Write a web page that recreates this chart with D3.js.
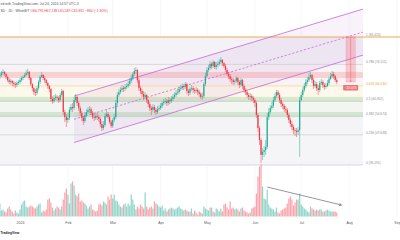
<!DOCTYPE html>
<html><head><meta charset="utf-8">
<script src="https://cdn.jsdelivr.net/npm/d3@7"></script>
<style>html,body{margin:0;padding:0;background:#fff;}svg{display:block;font-family:"Liberation Sans",Arial,sans-serif;}</style>
</head><body><svg id="c" width="400" height="240"></svg>
<script>
// ---- data (prices in thousands USD) ----
const firstDay = "2023-12-19";
const firstOpen = 69.7;
const closes = [70.1,70.9,71.3,70.5,69.4,68.2,67.5,67.9,67.1,66.7,66.4,67.1,67.5,
68.2,69.0,69.4,70.1,70.9,71.3,69.0,66.7,65.2,63.7,
63.4,65.2,67.5,69.4,70.1,69.0,68.2,67.1,66.0,64.9,
61.1,60.3,61.5,61.9,61.5,60.7,62.6,64.1,56.2,54.3,
53.2,54.0,57.0,58.1,57.7,60.7,61.9,59.6,57.7,55.8,
54.0,52.8,55.1,56.2,57.0,57.3,55.8,54.3,54.0,54.7,
54.3,53.6,51.7,50.2,51.3,54.7,55.5,54.3,52.5,51.0,
53.2,54.3,59.6,62.6,63.7,64.5,65.2,64.9,65.6,66.0,
66.7,67.9,69.0,70.5,71.6,72.0,68.2,65.2,64.1,63.0,
61.9,62.6,60.7,59.2,57.7,57.0,58.1,57.0,56.2,57.3,
57.7,58.5,59.6,60.0,60.3,59.6,60.7,60.3,61.1,61.9,
62.6,63.4,63.7,64.9,65.2,66.0,65.6,66.7,64.1,63.4,
64.9,65.2,64.5,64.1,64.5,63.7,63.0,61.9,62.2,66.7,
69.7,72.0,72.8,74.3,73.5,75.0,73.1,73.9,74.3,75.0,
75.8,74.6,73.5,72.0,70.5,69.7,68.6,68.2,67.5,67.9,
69.0,67.5,66.4,68.2,66.0,64.5,63.7,62.6,61.9,62.2,
61.5,60.7,59.6,55.1,50.2,45.7,40.1,41.2,41.9,43.1,
54.3,56.2,57.7,58.5,60.7,62.2,63.7,62.6,60.7,59.2,
58.5,57.3,57.0,55.1,53.2,51.7,50.6,49.4,49.1,48.7,
49.4,60.7,62.6,64.5,66.0,67.5,68.2,69.4,70.1,68.2,
66.0,66.7,65.2,64.5,67.1,67.5,66.4,65.6,66.0,67.1,
68.6,69.7,70.5,69.7,68.2,67.5];
const highs = [71.3,71.6,72.4,71.6,70.9,69.7,69.0,68.6,68.2,67.9,67.5,67.9,68.2,
69.0,69.7,70.1,70.9,72.0,72.4,71.6,69.4,67.1,65.6,
64.9,66.0,68.2,70.1,71.3,70.5,69.7,68.6,67.5,66.4,
65.2,62.2,62.6,63.0,62.6,62.2,63.4,64.9,64.5,57.0,
55.5,55.8,58.1,59.2,59.6,61.9,63.0,62.2,60.3,58.5,
56.6,54.7,56.2,57.3,58.1,58.5,58.1,56.6,55.5,55.8,
55.8,55.1,54.3,52.8,52.8,55.8,57.0,56.2,55.1,53.2,
54.0,55.5,60.7,63.7,64.9,65.6,66.4,66.0,66.7,67.1,
67.9,69.0,70.1,71.3,72.8,73.1,72.4,69.0,66.0,64.9,
64.1,63.7,63.0,61.1,60.0,58.5,59.2,58.8,57.7,58.5,
58.8,59.6,60.3,61.1,61.5,61.1,61.9,61.5,62.2,63.0,
63.7,64.5,64.9,66.0,66.4,67.1,66.7,67.5,67.1,64.9,
65.6,66.4,66.0,65.2,65.6,65.2,64.5,63.7,63.4,67.5,
70.9,73.1,73.9,75.4,75.0,75.8,75.4,75.0,75.4,76.1,
76.9,76.1,75.0,74.3,72.8,71.3,70.5,69.4,69.0,68.6,
69.7,69.4,68.2,69.0,68.6,66.7,65.2,64.5,63.4,63.4,
63.0,62.2,61.5,60.3,55.8,51.0,46.4,42.7,43.4,45.7,
55.8,57.7,58.8,60.0,61.9,63.4,64.5,64.5,63.4,61.5,
60.0,59.2,58.5,57.7,55.8,54.0,52.8,51.3,50.2,50.2,
50.6,61.9,63.7,65.6,67.1,68.6,69.4,70.9,71.3,70.5,
69.0,67.9,67.5,66.4,67.9,68.6,68.2,67.1,67.1,68.2,
69.4,70.9,71.6,71.3,70.1,69.0];
const lows = [68.6,69.4,70.1,69.7,68.6,67.5,66.7,66.4,66.0,65.6,65.2,65.6,66.4,
66.7,67.5,68.2,69.0,69.7,70.1,68.2,66.0,64.1,62.6,
62.2,62.6,64.5,66.7,69.0,68.2,67.1,66.4,64.9,63.7,
60.0,59.2,59.6,60.7,60.3,59.6,60.0,61.9,55.1,52.5,
50.6,52.1,53.2,56.2,56.2,57.0,60.0,58.5,56.6,54.7,
52.8,51.3,52.1,54.3,55.5,55.8,55.1,53.6,52.8,53.2,
53.2,52.5,50.6,49.1,49.4,50.6,54.0,53.6,51.7,50.2,
50.2,52.5,53.6,58.8,61.9,63.0,63.7,63.7,64.1,64.9,
65.2,66.0,67.1,68.2,69.7,70.5,67.1,64.1,63.0,61.9,
60.7,61.1,59.6,58.1,56.6,55.1,56.2,55.8,55.1,55.5,
56.6,57.0,57.7,58.8,59.2,58.5,58.8,59.2,59.6,60.3,
61.1,61.9,62.6,63.0,64.1,64.5,64.5,64.9,63.0,62.2,
62.6,64.1,63.4,63.0,63.4,62.6,61.9,61.1,60.7,61.5,
66.0,69.0,71.3,72.0,72.4,72.8,72.4,72.0,73.1,73.5,
74.3,73.5,72.8,71.3,69.7,68.6,67.5,66.7,66.4,66.4,
67.1,66.4,65.2,65.6,64.9,63.4,62.6,61.5,60.7,60.7,
60.3,59.6,58.1,54.0,48.7,43.8,37.0,38.2,39.3,40.1,
42.3,53.2,55.5,57.0,57.7,60.0,61.5,61.5,59.6,58.1,
57.3,56.2,55.8,54.0,52.1,50.6,49.4,47.9,47.2,46.8,
47.6,39.3,60.3,61.9,63.7,65.2,66.7,67.5,68.6,67.1,
64.9,65.2,64.1,62.6,63.7,66.4,65.2,64.5,64.9,65.6,
66.4,68.2,69.0,68.6,67.5,66.7];
const volumes = [13,6,7,5,4,8,10,7,5,3,6,4,3,
7,12,15,16,10,9,10,11,10,9,
8,10,12,13,4,6,5,7,17,18,
14,9,6,8,10,9,7,10,17,24,
28,22,13,33,35,31,22,20,23,15,
16,14,13,11,8,10,12,7,6,5,
6,12,13,11,15,14,12,20,17,22,
18,22,16,15,12,10,9,12,13,10,
13,11,22,17,12,7,10,8,12,10,
8,24,10,7,9,10,8,15,13,12,
10,9,11,6,8,5,7,8,9,8,
7,8,9,10,8,7,6,7,6,5,
5,8,3,6,4,2,5,4,3,10,
8,7,6,9,9,5,4,8,7,5,
8,5,12,13,9,7,15,8,9,7,
8,7,5,8,9,6,5,4,3,4,
8,9,10,23,40,50,52,30,18,17,
27,12,9,8,7,5,9,4,3,6,
7,8,9,13,18,20,17,11,14,17,
17,23,12,10,8,7,5,4,10,8,
7,6,7,6,7,7,5,5,6,7,
6,5,5,5,5,4];
const monthTicks = ["2024-01-01","2024-02-01","2024-03-01","2024-04-01","2024-05-01","2024-06-01","2024-07-01","2024-08-01","2024-09-01"];
const monthLabels = ["2024","Feb","Mar","Apr","May","Jun","Jul","Aug","Sep"];
const fibLevels = [0, 0.236, 0.382, 0.5, 0.618, 0.786, 1];
const fibLow = 36.291, fibHigh = 84.413;
const fibDates = ["2023-12-01", "2024-08-10"];
const zoneLow = [69.0, 60.0, 54.3];
const zoneHigh = [71.3, 61.9, 56.2];
const zoneKind = ["res", "sup", "sup"];
const channelDates = ["2024-02-05", "2024-08-10"];
const channelUpper = [62.2, 94.9];
const channelLower = [44.75, 77.6];
const rangeDates = ["2024-07-30", "2024-08-05"];
const rangeLabel = "−20.04%";
const volTrendDates = ["2024-06-09", "2024-07-27"];
const volTrendValues = [29.5, 11.5];
const headerLine1 = "ed with TradingView.com, Jul 24, 2024 14:57 UTC-3";
const headerSymbol = "SD · 1D · WhiteBIT";
const headerOHLC = "O66,795 H67,138 L65,549 C65,831 −864 (−1.30%)";
const logoText = "TradingView";

// ---- drawing ----
const svg = d3.select("#c");
const parse = d3.utcParse("%Y-%m-%d");
const day0 = parse(firstDay);
const dates = closes.map((_, i) => d3.utcDay.offset(day0, i));
const x = d3.scaleUtc().domain([parse("2024-01-01"), parse("2024-09-01")]).range([20, 397]);
const y = d3.scaleLinear().domain([fibLow, fibHigh]).range([165, 37]);
const yv = d3.scaleLinear().domain([0, 52]).range([216.5, 164.5]);
const fibPrice = l => fibLow + l * (fibHigh - fibLow);
const opens = closes.map((c, i) => i === 0 ? firstOpen : closes[i - 1]);
const UP = "#22ab94", DOWN = "#f23645";

svg.append("rect").attr("width", 400).attr("height", 240).attr("fill", "#fff");

// vertical grid
svg.append("g").selectAll("line").data(monthTicks.map(parse)).join("line")
  .attr("x1", d => x(d)).attr("x2", d => x(d)).attr("y1", 0).attr("y2", 216.5)
  .attr("stroke", "#eef0f5").attr("stroke-width", 0.6);

// fib fills
const fx0 = x(parse(fibDates[0])), fx1 = x(parse(fibDates[1]));
const fibFill = ["#f5f5f7", "#f4f4f6", "#f3f5f1", "#fdf8ec", "#f8f4f6", "#f4f2f7"];
svg.append("g").selectAll("rect").data(d3.range(fibLevels.length - 1)).join("rect")
  .attr("x", fx0).attr("width", fx1 - fx0)
  .attr("y", i => y(fibPrice(fibLevels[i + 1])))
  .attr("height", i => y(fibPrice(fibLevels[i])) - y(fibPrice(fibLevels[i + 1])))
  .attr("fill", i => fibFill[i]);

// zones
svg.append("g").selectAll("rect").data(zoneLow.map((l, i) => i)).join("rect")
  .attr("x", fx0).attr("width", fx1 - fx0)
  .attr("y", i => y(zoneHigh[i])).attr("height", i => y(zoneLow[i]) - y(zoneHigh[i]))
  .attr("fill", i => zoneKind[i] === "res" ? "rgba(242,54,69,0.18)" : "rgba(76,175,80,0.2)");

// channel fill
const cx0 = x(parse(channelDates[0])), cx1 = x(parse(channelDates[1]));
svg.append("polygon")
  .attr("points", [[cx0, y(channelUpper[0])], [cx1, y(channelUpper[1])], [cx1, y(channelLower[1])], [cx0, y(channelLower[0])]].map(p => p.join(",")).join(" "))
  .attr("fill", "rgba(156,39,176,0.06)");

// fib lines
svg.append("g").selectAll("line").data(fibLevels.filter(l => l !== 1)).join("line")
  .attr("x1", fx0).attr("x2", fx1)
  .attr("y1", l => y(fibPrice(l))).attr("y2", l => y(fibPrice(l)))
  .attr("stroke", l => l === 0.618 ? "#f9d38a" : "#c9cbd1").attr("stroke-width", 0.7);
// level 1 extended line
svg.append("line").attr("x1", 0).attr("x2", 400)
  .attr("y1", y(fibHigh)).attr("y2", y(fibHigh))
  .attr("stroke", "#ef9d45").attr("stroke-width", 0.9);

// channel lines
const chMid = [(channelUpper[0] + channelLower[0]) / 2, (channelUpper[1] + channelLower[1]) / 2];
[[channelUpper, null], [channelLower, null], [chMid, "2.2,1.8"]].forEach(([v, dash]) => {
  svg.append("line").attr("x1", cx0).attr("x2", cx1).attr("y1", y(v[0])).attr("y2", y(v[1]))
    .attr("stroke", "#c069d6").attr("stroke-width", 0.8).attr("stroke-dasharray", dash);
});

// volume
svg.append("g").selectAll("rect").data(volumes.map((v, i) => i)).join("rect")
  .attr("x", i => x(dates[i]) - 0.6).attr("width", 1.2)
  .attr("y", i => yv(volumes[i])).attr("height", i => yv(0) - yv(volumes[i]))
  .attr("fill", i => closes[i] >= opens[i] ? "rgba(34,171,148,0.5)" : "rgba(242,54,69,0.45)");

// candles
const cg = svg.append("g");
cg.selectAll("line").data(closes.map((c, i) => i)).join("line")
  .attr("x1", i => x(dates[i])).attr("x2", i => x(dates[i]))
  .attr("y1", i => y(highs[i])).attr("y2", i => y(lows[i]))
  .attr("stroke", i => closes[i] >= opens[i] ? UP : DOWN).attr("stroke-width", 0.5);
cg.selectAll("rect").data(closes.map((c, i) => i)).join("rect")
  .attr("x", i => x(dates[i]) - 0.6).attr("width", 1.2)
  .attr("y", i => y(Math.max(opens[i], closes[i])))
  .attr("height", i => Math.max(0.5, Math.abs(y(opens[i]) - y(closes[i]))))
  .attr("fill", i => closes[i] >= opens[i] ? UP : DOWN);

// price range projection
const rx0 = x(parse(rangeDates[0])), rx1 = x(parse(rangeDates[1]));
const lastClose = closes[closes.length - 1];
svg.append("rect").attr("x", rx0).attr("width", rx1 - rx0)
  .attr("y", y(fibHigh)).attr("height", y(lastClose) - y(fibHigh))
  .attr("fill", "rgba(242,54,69,0.22)").attr("stroke", "rgba(242,54,69,0.35)").attr("stroke-width", 0.4);
const rxm = (rx0 + rx1) / 2;
svg.append("line").attr("x1", rxm).attr("x2", rxm).attr("y1", y(fibHigh)).attr("y2", y(lastClose))
  .attr("stroke", "#f0727c").attr("stroke-width", 0.6);
svg.append("path").attr("d", `M${rxm - 1.2},${y(lastClose) - 1.5}L${rxm},${y(lastClose)}L${rxm + 1.2},${y(lastClose) - 1.5}`)
  .attr("fill", "none").attr("stroke", "#f0727c").attr("stroke-width", 0.6);
svg.append("rect").attr("x", rxm - 7.5).attr("width", 15).attr("y", y(lastClose) + 3).attr("height", 5.5)
  .attr("rx", 0.8).attr("fill", "#f0737b");
svg.append("text").attr("x", rxm).attr("y", y(lastClose) + 6.9).attr("text-anchor", "middle")
  .attr("font-size", 3).attr("fill", "#fff").text(rangeLabel);

// volume trend arrow
const ax0 = x(parse(volTrendDates[0])), ax1 = x(parse(volTrendDates[1]));
const ay0 = yv(volTrendValues[0]), ay1 = yv(volTrendValues[1]);
svg.append("line").attr("x1", ax0).attr("y1", ay0).attr("x2", ax1).attr("y2", ay1)
  .attr("stroke", "#50535e").attr("stroke-width", 0.6);
const ang = Math.atan2(ay1 - ay0, ax1 - ax0);
const ah = 2.5;
svg.append("path").attr("d", `M${ax1 - ah * Math.cos(ang - 0.5)},${ay1 - ah * Math.sin(ang - 0.5)}L${ax1},${ay1}L${ax1 - ah * Math.cos(ang + 0.5)},${ay1 - ah * Math.sin(ang + 0.5)}`)
  .attr("fill", "none").attr("stroke", "#50535e").attr("stroke-width", 0.6);

// fib labels
const fmt = d3.format(",.0f");
svg.append("g").selectAll("text").data(fibLevels).join("text")
  .attr("x", fx1 + 3).attr("y", l => y(fibPrice(l)) - 1.2)
  .attr("font-size", 3.2).attr("fill", l => l === 0.618 ? "#f2a33a" : "#8a8d96")
  .text(l => `${l} (${fmt(fibPrice(l) * 1000)})`);

// time axis
const axis = d3.axisBottom(x).tickValues(monthTicks.map(parse)).tickFormat((d, i) => monthLabels[i]).tickSize(0);
const ag = svg.append("g").attr("transform", "translate(0,218)").call(axis);
ag.select(".domain").remove();
ag.selectAll("text").attr("font-size", 3.6).attr("fill", "#5d606b").attr("font-family", "Liberation Sans, Arial, sans-serif");

// header
svg.append("text").attr("x", 0.5).attr("y", 4.8).attr("font-size", 3.4).attr("fill", "#50535e").text(headerLine1);
const h2 = svg.append("text").attr("x", 0.5).attr("y", 11.6).attr("font-size", 3.4);
h2.append("tspan").attr("fill", "#50535e").text(headerSymbol + "  ");
h2.append("tspan").attr("fill", "#f23645").text(headerOHLC);

// logo
svg.append("text").attr("x", 0.5).attr("y", 233.5).attr("font-size", 3.2)
  .attr("font-weight", "bold").attr("fill", "#131722").text(logoText);
</script></body></html>
